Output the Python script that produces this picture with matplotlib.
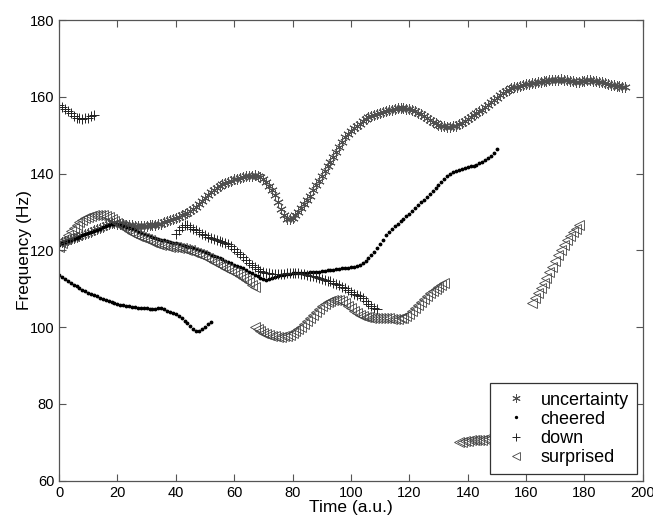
import numpy as np
import matplotlib
matplotlib.use('Agg')
import matplotlib.pyplot as plt

plt.rcParams['font.family'] = ['Liberation Sans', 'DejaVu Sans']

# uncertainty: x = 0..194
unc_x = np.arange(0, 195)
unc_y = [122.0, 122.2, 122.5, 122.7, 123.0, 123.2, 123.5, 123.8, 124.0, 124.3,
         124.6, 124.9, 125.2, 125.5, 125.9, 126.2, 126.6, 127.0, 127.2, 127.1,
         127.0, 126.9, 126.8, 126.7, 126.6, 126.5, 126.4, 126.4, 126.4, 126.4,
         126.4, 126.5, 126.5, 126.6, 126.8, 127.0, 127.3, 127.6, 127.9, 128.2,
         128.5, 128.8, 129.1, 129.4, 129.7, 130.2, 130.8, 131.4, 132.0, 132.8,
         133.6, 134.5, 135.3, 135.8, 136.3, 136.8, 137.2, 137.5, 137.9, 138.2,
         138.5, 138.7, 138.9, 139.1, 139.3, 139.4, 139.5, 139.6, 139.4, 139.0,
         138.5, 137.7, 136.8, 135.7, 134.5, 132.5, 130.8, 129.2, 128.3, 128.1,
         128.5, 129.2, 130.0, 131.0, 132.0, 133.0, 134.3, 135.7, 137.0, 138.2,
         139.5, 140.7, 141.9, 143.0, 144.4, 145.7, 147.0, 148.3, 149.5, 150.3,
         151.0, 151.8, 152.5, 153.0, 153.6, 154.2, 154.7, 155.0, 155.3, 155.6,
         155.9, 156.1, 156.3, 156.5, 156.7, 156.9, 157.0, 157.0, 157.0, 156.9,
         156.8, 156.6, 156.3, 155.9, 155.5, 155.0, 154.5, 154.0, 153.5, 153.1,
         152.8, 152.5, 152.3, 152.2, 152.1, 152.3, 152.5, 152.9, 153.3, 153.7,
         154.2, 154.7, 155.2, 155.7, 156.2, 156.7, 157.3, 157.9, 158.6, 159.2,
         159.8, 160.4, 161.0, 161.5, 161.9, 162.2, 162.5, 162.7, 162.9, 163.1,
         163.3, 163.4, 163.6, 163.7, 163.9, 164.0, 164.1, 164.2, 164.3, 164.4,
         164.5, 164.5, 164.6, 164.5, 164.4, 164.2, 164.1, 164.0, 164.0, 164.1,
         164.2, 164.3, 164.3, 164.2, 164.1, 163.9, 163.8, 163.6, 163.4, 163.2,
         163.1, 162.9, 162.8, 162.7, 162.6]

# cheered, upper contour: x = 0..150
cheer1_x = np.arange(0, 151)
cheer1_y = [121.5, 121.8, 122.1, 122.4, 122.7, 123.0, 123.3, 123.6, 123.9, 124.2,
            124.5, 124.8, 125.1, 125.4, 125.7, 126.0, 126.3, 126.6, 126.9, 127.0,
            126.8, 126.5, 126.3, 126.0, 125.8, 125.5, 125.2, 124.9, 124.6, 124.3,
            124.0, 123.8, 123.5, 123.3, 123.0, 122.8, 122.6, 122.4, 122.2, 122.0,
            121.8, 121.6, 121.4, 121.2, 121.0, 120.8, 120.5, 120.3, 120.0, 119.8,
            119.5, 119.2, 118.9, 118.6, 118.3, 118.0, 117.7, 117.3, 117.0, 116.6,
            116.3, 116.0, 115.8, 115.4, 114.9, 114.5, 114.1, 113.6, 113.2, 112.8,
            112.5, 112.3, 112.5, 112.8, 113.0, 113.3, 113.5, 113.7, 113.8, 113.9,
            114.0, 114.0, 114.0, 114.1, 114.1, 114.2, 114.3, 114.3, 114.4, 114.5,
            114.6, 114.7, 114.8, 114.9, 115.0, 115.1, 115.2, 115.3, 115.4, 115.5,
            115.6, 115.8, 116.0, 116.2, 116.6, 117.2, 118.0, 118.8, 119.6, 120.5,
            121.6, 122.8, 124.0, 124.9, 125.6, 126.3, 127.0, 127.6, 128.2, 128.9,
            129.6, 130.3, 131.0, 131.8, 132.5, 133.2, 133.9, 134.7, 135.5, 136.3,
            137.0, 137.8, 138.6, 139.3, 139.8, 140.3, 140.7, 141.0, 141.3, 141.5,
            141.7, 141.9, 142.1, 142.3, 142.7, 143.1, 143.6, 144.1, 144.7, 145.5,
            146.3]

# cheered, lower contour: x = 0..52
cheer2_x = np.arange(0, 53)
cheer2_y = [113.6, 113.1, 112.6, 112.1, 111.6, 111.1, 110.6, 110.1, 109.7, 109.3,
            108.9, 108.6, 108.3, 108.0, 107.7, 107.4, 107.1, 106.8, 106.5, 106.3,
            106.1, 105.9, 105.7, 105.5, 105.4, 105.3, 105.2, 105.1, 105.0, 104.9,
            104.9, 104.8, 104.8, 104.8, 104.9, 105.0, 104.6, 104.3, 104.0, 103.7,
            103.4, 103.0, 102.4, 101.7, 101.0, 100.3, 99.6, 99.1, 99.0, 99.4,
            100.1, 100.7, 101.4]

# down: x = 0..12 and 40..109
down1_x = np.arange(0, 13)
down1_y = [157.9, 157.3, 156.8, 156.2, 155.7, 155.1, 154.6, 154.4, 154.3, 154.4,
           154.6, 155.0, 155.3]
down2_x = np.arange(40, 110)
down2_y = [124.4, 125.3, 126.1, 126.6, 126.5, 126.2, 125.7, 125.2, 124.7, 124.3,
           123.9, 123.5, 123.1, 122.9, 122.7, 122.5, 122.3, 122.0, 121.6, 121.1,
           120.4, 119.7, 119.0, 118.2, 117.5, 116.8, 116.2, 115.6, 115.1, 114.7,
           114.4, 114.2, 114.0, 113.9, 113.8, 113.8, 113.8, 113.9, 114.0, 114.0,
           114.0, 114.0, 114.0, 113.9, 113.8, 113.6, 113.4, 113.2, 113.0, 112.7,
           112.5, 112.3, 112.1, 111.9, 111.6, 111.3, 110.9, 110.5, 110.1, 109.6,
           109.1, 108.7, 108.3, 108.0, 107.5, 106.8, 106.0, 105.4, 105.0, 104.8]

# surprised: four pieces
surp1_x = np.arange(0, 68)
surp1_y = [121.0, 122.0, 123.0, 124.0, 125.0, 125.9, 126.7, 127.4, 128.0, 128.5,
           128.8, 129.0, 129.2, 129.2, 129.2, 129.1, 128.9, 128.6, 128.2, 127.7,
           127.2, 126.6, 126.0, 125.5, 125.0, 124.6, 124.2, 123.8, 123.5, 123.2,
           122.9, 122.6, 122.3, 122.0, 121.7, 121.5, 121.3, 121.1, 121.0, 120.9,
           120.8, 120.7, 120.6, 120.4, 120.2, 120.0, 119.7, 119.4, 119.1, 118.7,
           118.3, 117.9, 117.5, 117.1, 116.7, 116.3, 115.9, 115.5, 115.1, 114.7,
           114.3, 113.9, 113.4, 112.9, 112.3, 111.7, 111.1, 110.5]
surp2_x = np.arange(67, 133)
surp2_y = [100.1, 99.5, 99.0, 98.6, 98.2, 97.9, 97.7, 97.6, 97.5, 97.5,
           97.6, 97.7, 98.0, 98.4, 98.9, 99.5, 100.1, 100.8, 101.6, 102.4,
           103.2, 104.0, 104.8, 105.5, 106.1, 106.6, 106.9, 107.1, 107.1, 107.0,
           106.7, 106.2, 105.6, 104.9, 104.2, 103.6, 103.2, 102.9, 102.7, 102.6,
           102.5, 102.5, 102.4, 102.4, 102.4, 102.3, 102.3, 102.2, 102.2, 102.2,
           102.3, 102.5, 102.9, 103.5, 104.2, 105.0, 105.8, 106.6, 107.4, 108.1,
           108.8, 109.4, 110.0, 110.5, 111.0, 111.4]
surp3_x = np.arange(162, 179)
surp3_y = [106.3, 107.6, 108.9, 110.2, 111.5, 112.9, 114.3, 115.8, 117.3, 118.8,
           120.2, 121.5, 122.7, 123.8, 124.8, 125.7, 126.6]
surp4_x = np.arange(137, 149)
surp4_y = [70.1, 70.2, 70.3, 70.4, 70.5, 70.5, 70.6, 70.6, 70.7, 70.8, 70.9, 71.0]

fig = plt.figure(figsize=(6.53, 5.21), dpi=100)
ax = fig.add_axes([0.0904, 0.0774, 0.894, 0.884])

star = dict(ls='none', marker=(6, 2, 0), ms=7.5, mec='#505050', mew=0.7)
dot = dict(ls='none', marker='.', ms=3.5, color='black')
plus = dict(ls='none', marker='+', ms=7, mec='#222222', mew=0.7)
tri = dict(ls='none', marker='<', ms=7, mfc='none', mec='#444444', mew=0.6)

ax.plot(unc_x, unc_y, label='uncertainty', **star)
ax.plot(cheer1_x, cheer1_y, label='cheered', **dot)
ax.plot(cheer2_x, cheer2_y, **dot)
ax.plot(down1_x, down1_y, label='down', **plus)
ax.plot(down2_x, down2_y, **plus)
ax.plot(surp1_x, surp1_y, label='surprised', **tri)
ax.plot(surp2_x, surp2_y, **tri)
ax.plot(surp3_x, surp3_y, **tri)
ax.plot(surp4_x, surp4_y, **tri)

ax.set_xlim(0, 200)
ax.set_ylim(60, 180)
ax.set_xticks(np.arange(0, 201, 20))
ax.set_yticks(np.arange(60, 181, 20))
ax.tick_params(direction='in', top=True, right=True, length=5, width=0.8,
               color='#555555', labelsize=10.5)
for s in ax.spines.values():
    s.set_color('#555555')
    s.set_linewidth(0.9)

ax.set_xlabel('Time (a.u.)', fontsize=12.5, labelpad=0)
ax.set_ylabel('Frequency (Hz)', fontsize=12.5, labelpad=-1.5)

leg = ax.legend(loc='lower right', bbox_to_anchor=(0.99, 0.014), fontsize=13,
                fancybox=False, framealpha=1, edgecolor='#333333',
                borderaxespad=0, handletextpad=0.35, labelspacing=0.12,
                borderpad=0.45, handlelength=2.0, markerscale=0.8)
leg.get_frame().set_linewidth(0.9)

plt.savefig('out.png', dpi=100)
